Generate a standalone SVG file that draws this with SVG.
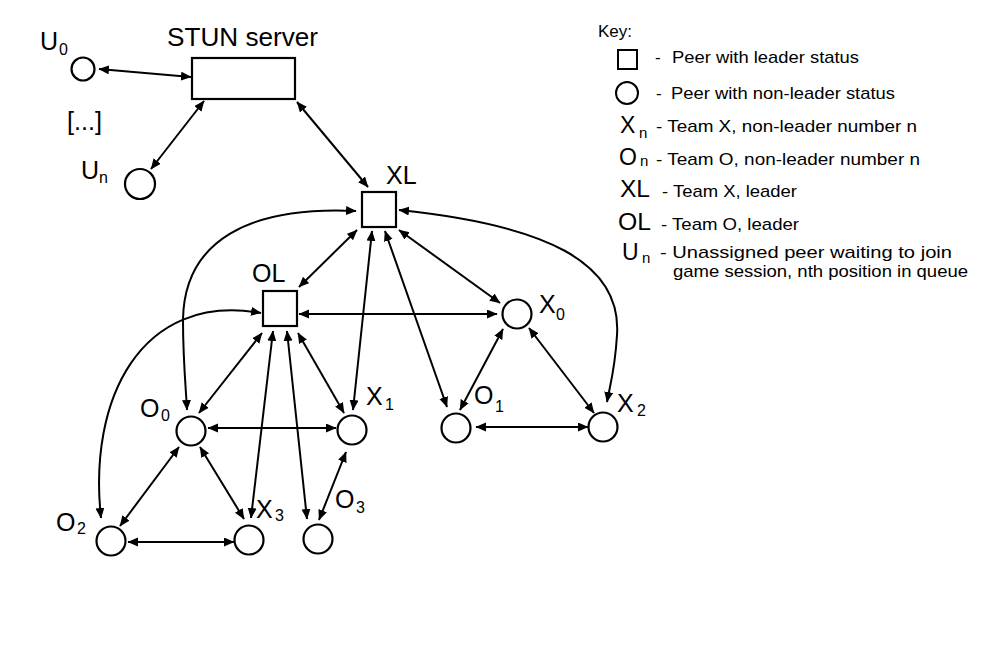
<svg xmlns="http://www.w3.org/2000/svg" width="1000" height="667" viewBox="0 0 1000 667">
  <style>
    .node { fill: #fff; stroke: #000; stroke-width: 2.2; }
    .lbl { font-family: "Liberation Sans", Arial, sans-serif; font-size: 25px; fill: #000; }
    .sub { font-family: "Liberation Sans", Arial, sans-serif; font-size: 16px; fill: #000; }
    .key { font-family: "Liberation Sans", Arial, sans-serif; font-size: 17px; fill: #000; }
    .keysym { font-family: "Liberation Sans", Arial, sans-serif; font-size: 23px; fill: #000; }
    .keysub { font-family: "Liberation Sans", Arial, sans-serif; font-size: 15px; fill: #000; }
    .link { fill: none; stroke: #000; stroke-width: 2; marker-start: url(#head); marker-end: url(#head); }
  </style>
  <defs>
    <marker id="head" markerUnits="userSpaceOnUse" markerWidth="12" markerHeight="10" refX="10" refY="4.5" orient="auto-start-reverse">
      <path d="M0,0 L10.5,4.5 L0,9 z" fill="#000"/>
    </marker>
  </defs>
  <rect width="1000" height="667" fill="#fff"/>

  <!-- connectors -->
  <g id="connectors">
    <line class="link" x1="99" y1="69" x2="191" y2="77"/>
    <line class="link" x1="204" y1="101" x2="151" y2="169"/>
    <line class="link" x1="297" y1="102" x2="368" y2="187"/>
    <line class="link" x1="357" y1="230" x2="299" y2="287"/>
    <line class="link" x1="299" y1="314" x2="497" y2="314"/>
    <line class="link" x1="372" y1="231" x2="353" y2="410"/>
    <line class="link" x1="385" y1="231" x2="447" y2="407"/>
    <line class="link" x1="399" y1="230" x2="500" y2="303"/>
    <path class="link" d="M356,211 C250,206 184,240 183,320 C183,360 186,390 187,410"/>
    <path class="link" d="M261,313 C140,292 88,400 101,518"/>
    <path class="link" d="M399,210 C545,225 622,262 617,335 C615,370 610,385 607,402"/>
    <line class="link" x1="262" y1="333" x2="199" y2="413"/>
    <line class="link" x1="298" y1="333" x2="344" y2="413"/>
    <line class="link" x1="273" y1="331" x2="251" y2="518"/>
    <line class="link" x1="287" y1="331" x2="307" y2="519"/>
    <line class="link" x1="208" y1="428" x2="336" y2="428"/>
    <line class="link" x1="179" y1="447" x2="120" y2="526"/>
    <line class="link" x1="200" y1="447" x2="244" y2="519"/>
    <line class="link" x1="128" y1="542" x2="234" y2="542"/>
    <line class="link" x1="346" y1="452" x2="319" y2="520"/>
    <line class="link" x1="503" y1="329" x2="460" y2="410"/>
    <line class="link" x1="529" y1="328" x2="594" y2="413"/>
    <line class="link" x1="476" y1="427" x2="588" y2="427"/>
  </g>

  <!-- STUN server -->
  <g id="stun">
    <rect class="node" x="192" y="58" width="103" height="41"/>
    <text class="lbl" x="167" y="46" textLength="151" lengthAdjust="spacingAndGlyphs">STUN server</text>
  </g>

  <!-- unassigned peers -->
  <g id="u0">
    <circle class="node" cx="83" cy="69" r="11.5"/>
    <text class="lbl" x="40" y="50">U</text>
    <text class="sub" x="59" y="55">0</text>
  </g>
  <g id="queue-gap">
    <text class="lbl" x="67" y="130" textLength="35" lengthAdjust="spacingAndGlyphs">[...]</text>
  </g>
  <g id="un">
    <circle class="node" cx="140" cy="184" r="15"/>
    <text class="lbl" x="81" y="179">U</text>
    <text class="sub" x="99" y="183">n</text>
  </g>

  <!-- leaders -->
  <g id="xl">
    <rect class="node" x="362" y="192" width="34" height="35"/>
    <text class="lbl" x="386" y="184">XL</text>
  </g>
  <g id="ol">
    <rect class="node" x="263" y="291" width="34" height="35"/>
    <text class="lbl" x="252" y="282">OL</text>
  </g>

  <!-- team members -->
  <g id="x0">
    <circle class="node" cx="517" cy="314" r="14.5"/>
    <text class="lbl" x="539" y="313">X</text>
    <text class="sub" x="556" y="320">0</text>
  </g>
  <g id="o0">
    <circle class="node" cx="191" cy="431" r="14.5"/>
    <text class="lbl" x="140" y="417">O</text>
    <text class="sub" x="161" y="421">0</text>
  </g>
  <g id="x1">
    <circle class="node" cx="352" cy="430" r="14.5"/>
    <text class="lbl" x="366" y="405">X</text>
    <text class="sub" x="385" y="410">1</text>
  </g>
  <g id="o1">
    <circle class="node" cx="456" cy="428" r="14.5"/>
    <text class="lbl" x="474" y="404">O</text>
    <text class="sub" x="495" y="412">1</text>
  </g>
  <g id="x2">
    <circle class="node" cx="603" cy="427" r="14.5"/>
    <text class="lbl" x="617" y="412">X</text>
    <text class="sub" x="637" y="416">2</text>
  </g>
  <g id="o2">
    <circle class="node" cx="111" cy="541" r="14.5"/>
    <text class="lbl" x="56" y="531">O</text>
    <text class="sub" x="77" y="534">2</text>
  </g>
  <g id="x3">
    <circle class="node" cx="249" cy="540" r="14.5"/>
    <text class="lbl" x="256" y="518">X</text>
    <text class="sub" x="275" y="521">3</text>
  </g>
  <g id="o3">
    <circle class="node" cx="318" cy="539" r="14.5"/>
    <text class="lbl" x="335" y="508">O</text>
    <text class="sub" x="356" y="513">3</text>
  </g>

  <!-- key -->
  <g id="legend">
    <text class="key" x="598" y="37">Key:</text>
    <rect x="618" y="50" width="19" height="19" fill="none" stroke="#000" stroke-width="2"/>
    <text class="key" x="655" y="63">-</text>
    <text class="key" x="672" y="63" textLength="187" lengthAdjust="spacingAndGlyphs">Peer with leader status</text>
    <circle cx="627" cy="93" r="11" fill="none" stroke="#000" stroke-width="2"/>
    <text class="key" x="656" y="99">-</text>
    <text class="key" x="671" y="99" textLength="224" lengthAdjust="spacingAndGlyphs">Peer with non-leader status</text>
    <text class="keysym" x="620" y="133">X</text>
    <text class="keysub" x="639" y="138">n</text>
    <text class="key" x="656" y="132" textLength="261" lengthAdjust="spacingAndGlyphs">- Team X, non-leader number n</text>
    <text class="keysym" x="619" y="165">O</text>
    <text class="keysub" x="640" y="166">n</text>
    <text class="key" x="656" y="165" textLength="264" lengthAdjust="spacingAndGlyphs">- Team O, non-leader number n</text>
    <text class="keysym" x="620" y="197" textLength="30" lengthAdjust="spacingAndGlyphs">XL</text>
    <text class="key" x="662" y="197" textLength="135" lengthAdjust="spacingAndGlyphs">- Team X, leader</text>
    <text class="keysym" x="618" y="230" textLength="33" lengthAdjust="spacingAndGlyphs">OL</text>
    <text class="key" x="661" y="230" textLength="138" lengthAdjust="spacingAndGlyphs">- Team O, leader</text>
    <text class="keysym" x="622" y="260">U</text>
    <text class="keysub" x="642" y="263">n</text>
    <text class="key" x="660" y="258" textLength="292" lengthAdjust="spacingAndGlyphs">- Unassigned peer waiting to join</text>
    <text class="key" x="673" y="277" textLength="295" lengthAdjust="spacingAndGlyphs">game session, nth position in queue</text>
  </g>
</svg>
